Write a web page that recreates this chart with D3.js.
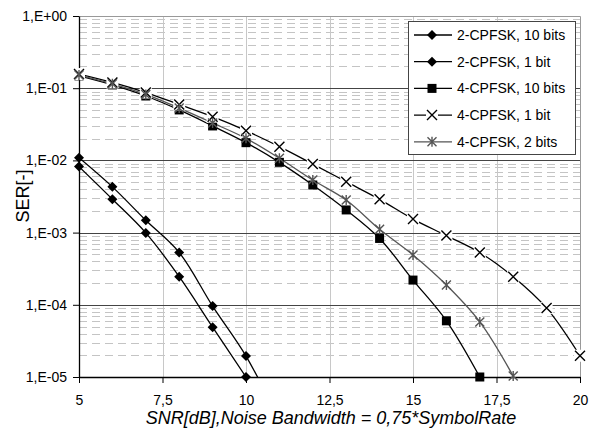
<!DOCTYPE html>
<html lang="en">
  <head>
    <meta charset="utf-8">
    <title>SER vs SNR</title>
    <script src="https://cdn.jsdelivr.net/npm/d3@7"></script>
    <style>
      body { margin: 0; background: white; }
      text {
        font-family: "Liberation Sans", Arial, sans-serif;
        font-size: 14px;
        fill: black;
      }
    </style>
  </head>
  <body>
    <script>

        var w = 599;
        var h = 430;

        // SNR in dB, one point per dB starting at 5
        var snrStart = 5;

        var s2cpfsk10 = [8.2e-3, 2.9e-3, 9.9e-4, 2.45e-4, 4.9e-5, 1.0e-5];
        var s2cpfsk1  = [1.09e-2, 4.3e-3, 1.48e-3, 5.3e-4, 9.6e-5, 1.95e-5, 2.5e-6];
        var s4cpfsk10 = [0.148, 0.111, 0.078, 0.050, 0.030, 0.0176, 0.0094, 0.00456,
                         0.00206, 8.3e-4, 2.2e-4, 6.0e-5, 1.0e-5];
        var s4cpfsk1  = [0.157, 0.12, 0.087, 0.0595, 0.0403, 0.0258, 0.0155, 0.0089,
                         0.00507, 0.00289, 0.00154, 9.1e-4, 5.3e-4, 2.45e-4, 9.0e-5, 1.97e-5];
        var s4cpfsk2  = [0.152, 0.115, 0.082, 0.053, 0.033, 0.0202, 0.0107, 0.00535,
                         0.00283, 0.00111, 4.9e-4, 1.88e-4, 5.8e-5, 1.03e-5];

        var seriesNames = ["2-CPFSK, 10 bits", "2-CPFSK, 1 bit", "4-CPFSK, 10 bits",
                           "4-CPFSK, 1 bit", "4-CPFSK, 2 bits"];

        var xTicks = [5, 7.5, 10, 12.5, 15, 17.5, 20];
        var xTickLabels = ["5", "7,5", "10", "12,5", "15", "17,5", "20"];
        var yTicks = [1, 1e-1, 1e-2, 1e-3, 1e-4, 1e-5];
        var yTickLabels = ["1,E+00", "1,E-01", "1,E-02", "1,E-03", "1,E-04", "1,E-05"];

        var series = [
          { name: seriesNames[0], values: s2cpfsk10, marker: "diamond", color: "#000" },
          { name: seriesNames[1], values: s2cpfsk1,  marker: "diamond", color: "#000" },
          { name: seriesNames[2], values: s4cpfsk10, marker: "square",  color: "#000" },
          { name: seriesNames[3], values: s4cpfsk1,  marker: "cross",   color: "#000" },
          { name: seriesNames[4], values: s4cpfsk2,  marker: "star",    color: "#555" }
        ];

        var pLeft = 79, pRight = 580, pTop = 16, pBottom = 377;

        var xScale = d3.scaleLinear().domain([5, 20]).range([pLeft, pRight]);
        var yScale = d3.scaleLog().domain([1e-5, 1]).range([pBottom, pTop]);

        var svg = d3.select("body")
                    .append("svg")
                    .attr("width", w)
                    .attr("height", h);

        svg.append("defs").append("clipPath")
           .attr("id", "plotclip")
           .append("rect")
           .attr("x", pLeft).attr("y", pTop)
           .attr("width", pRight - pLeft).attr("height", pBottom - pTop);

        // minor dashed grid (2..9 in each decade)
        var minor = [];
        for (var e = -5; e < 0; e++) {
          for (var m = 2; m <= 9; m++) minor.push(m * Math.pow(10, e));
        }
        svg.append("g").selectAll("line")
           .data(minor).enter().append("line")
           .attr("x1", pLeft).attr("x2", pRight)
           .attr("y1", function(d) { return Math.round(yScale(d)) + 0.5; })
           .attr("y2", function(d) { return Math.round(yScale(d)) + 0.5; })
           .attr("stroke", "#c4c4c4")
           .attr("stroke-dasharray", "8,5");

        // vertical grid
        svg.append("g").selectAll("line")
           .data(xTicks.slice(1, -1)).enter().append("line")
           .attr("x1", function(d) { return Math.round(xScale(d)) + 0.5; })
           .attr("x2", function(d) { return Math.round(xScale(d)) + 0.5; })
           .attr("y1", pTop).attr("y2", pBottom)
           .attr("stroke", "#c8c8c8");

        // decade lines
        svg.append("g").selectAll("line")
           .data(yTicks.slice(1, -1)).enter().append("line")
           .attr("x1", pLeft).attr("x2", pRight)
           .attr("y1", function(d) { return Math.round(yScale(d)) + 0.5; })
           .attr("y2", function(d) { return Math.round(yScale(d)) + 0.5; })
           .attr("stroke", "#444");

        // top and right frame
        svg.append("path")
           .attr("d", "M" + pLeft + "," + (pTop + 0.5) + "H" + (pRight + 0.5) + "V" + pBottom)
           .attr("fill", "none")
           .attr("stroke", "#999");

        // axes
        var xAxis = d3.axisBottom(xScale)
                      .tickValues(xTicks)
                      .tickFormat(function(d, i) { return xTickLabels[i]; })
                      .tickSizeInner(6).tickSizeOuter(0).tickPadding(12);
        var yAxis = d3.axisLeft(yScale)
                      .tickValues(yTicks)
                      .tickFormat(function(d, i) { return yTickLabels[i]; })
                      .tickSizeInner(6).tickSizeOuter(0).tickPadding(6);

        svg.append("g")
           .attr("transform", "translate(0," + pBottom + ")")
           .call(xAxis)
           .call(function(g) {
             g.selectAll("text").style("font-size", "14px").style("font-family", "Liberation Sans, Arial, sans-serif");
             g.select(".domain").attr("stroke-width", 1.3);
           });

        svg.append("g")
           .attr("transform", "translate(" + pLeft + ",0)")
           .call(yAxis)
           .call(function(g) {
             g.selectAll("text").style("font-size", "14px").style("font-family", "Liberation Sans, Arial, sans-serif");
             g.select(".domain").attr("stroke-width", 1.3);
           });

        // axis titles
        svg.append("text")
           .attr("x", 331).attr("y", 424)
           .attr("text-anchor", "middle")
           .style("font-style", "italic")
           .style("font-size", "18px")
           .text("SNR[dB],Noise Bandwidth = 0,75*SymbolRate");

        svg.append("text")
           .attr("transform", "translate(29,196) rotate(-90)")
           .attr("text-anchor", "middle")
           .style("font-size", "18px")
           .text("SER[-]");

        // markers
        function drawMarker(g, type, color) {
          if (type === "diamond") {
            g.append("path").attr("d", "M0,-5L5,0L0,5L-5,0Z").attr("fill", color);
          } else if (type === "square") {
            g.append("rect").attr("x", -4.5).attr("y", -4.5).attr("width", 9).attr("height", 9)
             .attr("fill", color);
          } else if (type === "cross") {
            g.append("rect").attr("x", -6).attr("y", -6).attr("width", 12).attr("height", 12)
             .attr("fill", "white");
            g.append("path").attr("d", "M-5,-5L5,5M-5,5L5,-5")
             .attr("stroke", color).attr("stroke-width", 1.4).attr("fill", "none");
          } else if (type === "star") {
            g.append("path").attr("d", "M-4.5,-4.5L4.5,4.5M-4.5,4.5L4.5,-4.5M0,-5V5")
             .attr("stroke", color).attr("stroke-width", 1.4).attr("fill", "none");
          }
        }

        var line = d3.line()
                     .x(function(d, i) { return xScale(snrStart + i); })
                     .y(function(d) { return yScale(d); })
                     .curve(d3.curveCatmullRom.alpha(0.5));

        var plot = svg.append("g");

        series.forEach(function(s) {
          plot.append("path")
              .attr("d", line(s.values))
              .attr("clip-path", "url(#plotclip)")
              .attr("fill", "none")
              .attr("stroke", s.color)
              .attr("stroke-width", 1.3);
        });

        series.forEach(function(s) {
          s.values.forEach(function(v, i) {
            if (v < 9e-6) return;
            var g = plot.append("g")
                        .attr("transform", "translate(" + xScale(snrStart + i) + "," + yScale(v) + ")");
            drawMarker(g, s.marker, s.color);
          });
        });

        // legend
        var legend = svg.append("g");
        legend.append("rect")
              .attr("x", 408.5).attr("y", 21.5)
              .attr("width", 167).attr("height", 133)
              .attr("fill", "white")
              .attr("stroke", "#444");

        var rows = legend.selectAll("g.row")
                         .data(series).enter().append("g")
                         .attr("class", "row")
                         .attr("transform", function(d, i) {
                           return "translate(0," + (35 + i * 26.7) + ")";
                         });

        rows.append("line")
            .attr("x1", 414).attr("x2", 452)
            .attr("stroke", function(d) { return d.color; })
            .attr("stroke-width", 1.3);

        rows.each(function(d) {
          var g = d3.select(this).append("g").attr("transform", "translate(432,0)");
          drawMarker(g, d.marker, d.color);
        });

        rows.append("text")
            .attr("x", 457).attr("dy", "0.35em")
            .text(function(d) { return d.name; });

    </script>
  </body>
</html>
